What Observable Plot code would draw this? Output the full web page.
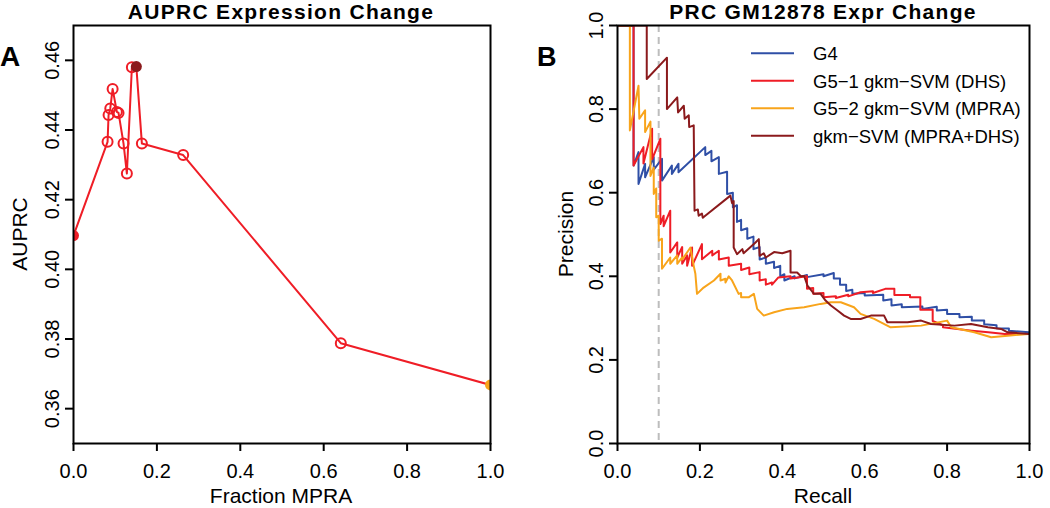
<!DOCTYPE html>
<html>
<head>
<meta charset="utf-8">
<script src="https://cdn.jsdelivr.net/npm/d3@7"></script>
<script src="https://cdn.jsdelivr.net/npm/@observablehq/plot@0.6"></script>
<style>
  html, body { margin: 0; padding: 0; background: #fff; }
  #wrap { position: relative; width: 1050px; height: 508px; overflow: hidden; font-family: "Liberation Sans", Arial, sans-serif; }
  #wrap > .panel { position: absolute; top: 0; }
  #overlay { position: absolute; left: 0; top: 0; pointer-events: none; }
</style>
</head>
<body>
<div id="wrap"></div>
<script>
// ---------- Panel A data ----------
const fractionMPRA = [0, 0.0817, 0.0841, 0.0882, 0.0938, 0.104, 0.108, 0.120, 0.128, 0.140, 0.1507, 0.164, 0.263, 0.641, 1.0];
const auprc       = [0.4097, 0.4366, 0.4443, 0.4462, 0.4518, 0.4452, 0.4449, 0.4361, 0.4275, 0.4580, 0.4582, 0.4361, 0.4328, 0.3788, 0.3668];
const pointModel  = ["G5-1 gkm-SVM (DHS)", "", "", "", "", "", "", "", "", "", "gkm-SVM (MPRA+DHS)", "", "", "", "G5-2 gkm-SVM (MPRA)"];
const xTicksA = [0, 0.2, 0.4, 0.6, 0.8, 1.0];
const yTicksA = [0.36, 0.38, 0.40, 0.42, 0.44, 0.46];

// ---------- Panel B data (precision-recall curves) ----------
const seriesNames = ["G4", "G5-1 gkm-SVM (DHS)", "G5-2 gkm-SVM (MPRA)", "gkm-SVM (MPRA+DHS)"];
const seriesLabels = ["G4", "G5\u22121 gkm\u2212SVM (DHS)", "G5\u22122 gkm\u2212SVM (MPRA)", "gkm\u2212SVM (MPRA+DHS)"];
const seriesColors = ["#2f4fa6", "#ef1d26", "#f8a41b", "#8b1a1c"];

const recallG4 = [0,0.039,0.039,0.051,0.051,0.067,0.067,0.088,0.088,0.108,0.108,0.132,0.132,0.148,0.148,0.213,0.213,0.228,0.228,0.246,0.246,0.266,0.266,0.28,0.28,0.29,0.29,0.30,0.30,0.315,0.315,0.33,0.33,0.345,0.345,0.36,0.36,0.38,0.38,0.395,0.395,0.405,0.405,0.43,0.43,0.46,0.46,0.50,0.50,0.525,0.525,0.54,0.54,0.555,0.555,0.57,0.57,0.60,0.60,0.645,0.645,0.665,0.665,0.69,0.69,0.74,0.74,0.775,0.775,0.80,0.80,0.83,0.83,0.86,0.86,0.89,0.89,0.92,0.92,0.95,0.95,1.0];
const precG4   = [1,1,0.665,0.697,0.621,0.669,0.637,0.685,0.655,0.681,0.629,0.665,0.645,0.669,0.649,0.709,0.69,0.70,0.675,0.685,0.645,0.65,0.597,0.60,0.565,0.57,0.53,0.535,0.51,0.515,0.49,0.495,0.465,0.47,0.44,0.445,0.43,0.435,0.42,0.425,0.40,0.405,0.39,0.40,0.395,0.403,0.398,0.405,0.40,0.408,0.395,0.395,0.38,0.38,0.365,0.368,0.358,0.36,0.354,0.356,0.342,0.345,0.33,0.333,0.326,0.328,0.322,0.327,0.318,0.32,0.31,0.31,0.302,0.303,0.294,0.294,0.285,0.283,0.276,0.275,0.27,0.266];

const recallG51 = [0,0.039,0.039,0.063,0.063,0.084,0.084,0.104,0.104,0.112,0.112,0.128,0.128,0.145,0.145,0.157,0.157,0.169,0.169,0.181,0.181,0.205,0.205,0.23,0.23,0.246,0.246,0.27,0.27,0.30,0.30,0.32,0.32,0.345,0.345,0.36,0.36,0.375,0.375,0.39,0.42,0.42,0.46,0.46,0.475,0.475,0.50,0.50,0.53,0.53,0.56,0.56,0.59,0.62,0.62,0.65,0.672,0.672,0.71,0.71,0.735,0.735,0.765,0.765,0.79,0.79,0.86,0.90,0.94,1.0];
const precG51   = [1,1,0.665,0.709,0.67,0.753,0.68,0.729,0.525,0.545,0.52,0.557,0.457,0.481,0.445,0.47,0.43,0.45,0.425,0.469,0.425,0.477,0.441,0.461,0.45,0.461,0.44,0.445,0.425,0.43,0.415,0.421,0.405,0.41,0.39,0.393,0.38,0.385,0.38,0.397,0.40,0.395,0.40,0.37,0.372,0.358,0.36,0.35,0.352,0.348,0.356,0.352,0.362,0.364,0.36,0.37,0.37,0.355,0.355,0.35,0.35,0.32,0.32,0.293,0.283,0.278,0.27,0.266,0.262,0.262];

const recallG52 = [0,0.030,0.030,0.051,0.053,0.067,0.067,0.08,0.08,0.088,0.088,0.094,0.094,0.1,0.1,0.108,0.108,0.128,0.128,0.145,0.145,0.157,0.157,0.177,0.185,0.189,0.193,0.209,0.234,0.25,0.25,0.262,0.262,0.27,0.278,0.294,0.30,0.30,0.319,0.331,0.339,0.355,0.38,0.412,0.453,0.493,0.518,0.542,0.574,0.59,0.623,0.663,0.737,0.80,0.81,0.866,0.907,0.947,1.0];
const precG52   = [1,1,0.749,0.856,0.777,0.797,0.745,0.77,0.64,0.66,0.597,0.61,0.541,0.545,0.485,0.49,0.418,0.445,0.43,0.45,0.43,0.445,0.44,0.469,0.425,0.406,0.358,0.373,0.39,0.406,0.39,0.394,0.385,0.40,0.39,0.358,0.36,0.35,0.35,0.358,0.322,0.306,0.314,0.322,0.326,0.334,0.338,0.338,0.326,0.31,0.298,0.278,0.282,0.294,0.278,0.266,0.254,0.258,0.262];

const recallGkm = [0,0.071,0.071,0.12,0.12,0.145,0.147,0.161,0.163,0.173,0.174,0.185,0.187,0.195,0.197,0.205,0.207,0.213,0.274,0.278,0.282,0.282,0.29,0.303,0.306,0.335,0.343,0.345,0.355,0.36,0.38,0.40,0.42,0.42,0.436,0.445,0.453,0.461,0.477,0.493,0.505,0.518,0.534,0.55,0.566,0.59,0.615,0.647,0.655,0.704,0.737,0.761,0.818,0.858,0.899,0.931,0.947,1.0];
const precGkm   = [1,1,0.872,0.923,0.80,0.828,0.792,0.808,0.777,0.785,0.757,0.761,0.557,0.56,0.545,0.55,0.54,0.545,0.593,0.575,0.58,0.469,0.453,0.465,0.455,0.481,0.489,0.449,0.455,0.445,0.458,0.455,0.461,0.409,0.409,0.40,0.401,0.378,0.358,0.358,0.342,0.33,0.318,0.306,0.298,0.298,0.306,0.306,0.29,0.29,0.294,0.286,0.282,0.286,0.278,0.274,0.266,0.262];

const recallCutoff = [0.1];
const xTicksB = [0, 0.2, 0.4, 0.6, 0.8, 1.0];
const yTicksB = [0, 0.2, 0.4, 0.6, 0.8, 1.0];

// ---------- build ----------
const FONT = '"Liberation Sans", Arial, Helvetica, sans-serif';
const RED = seriesColors[1];
const modelColor = {};
seriesNames.forEach((n, i) => modelColor[n] = seriesColors[i]);

const dataA = fractionMPRA.map((x, i) => ({x, y: auprc[i], model: pointModel[i]}));

const plotA = Plot.plot({
  width: 520, height: 508,
  marginLeft: 73, marginRight: 30, marginTop: 25, marginBottom: 65,
  x: {domain: [0, 1]},
  y: {domain: [0.35, 0.47]},
  color: {type: "identity"},
  style: {fontFamily: FONT, background: "transparent", color: "#000"},
  marks: [
    Plot.line(dataA, {x: "x", y: "y", stroke: RED, strokeWidth: 2, clip: true}),
    Plot.dot(dataA.filter(d => !d.model), {x: "x", y: "y", r: 5, stroke: RED, strokeWidth: 2, fill: "none", clip: true}),
    Plot.dot(dataA.filter(d => d.model), {x: "x", y: "y", r: 5.5, fill: d => modelColor[d.model], stroke: "none", clip: true}),
    Plot.axisX({ticks: xTicksA, tickFormat: d3.format(".1f"), tickSize: 8, tickPadding: 12, fontSize: 20, strokeWidth: 2, label: null}),
    Plot.axisY({ticks: yTicksA, tickFormat: d3.format(".2f"), tickSize: 8, tickPadding: 7, tickRotate: -90, fontSize: 20, strokeWidth: 2, label: null}),
    Plot.frame({strokeWidth: 2})
  ]
});

const dataB = [];
const recalls = [recallG4, recallG51, recallG52, recallGkm];
const precs = [precG4, precG51, precG52, precGkm];
seriesNames.forEach((name, s) => {
  recalls[s].forEach((r, i) => dataB.push({series: name, recall: r, precision: precs[s][i]}));
});

const plotB = Plot.plot({
  width: 530, height: 508,
  marginLeft: 97, marginRight: 21, marginTop: 25, marginBottom: 65,
  x: {domain: [0, 1]},
  y: {domain: [0, 1]},
  color: {domain: seriesNames, range: seriesColors},
  style: {fontFamily: FONT, background: "transparent", color: "#000"},
  marks: [
    Plot.ruleX(recallCutoff, {stroke: "#bdbdbd", strokeWidth: 2, strokeDasharray: "7,5"}),
    Plot.line(dataB, {x: "recall", y: "precision", z: "series", stroke: "series", strokeWidth: 2, clip: true}),
    Plot.axisX({ticks: xTicksB, tickFormat: d3.format(".1f"), tickSize: 8, tickPadding: 12, fontSize: 20, strokeWidth: 2, label: null}),
    Plot.axisY({ticks: yTicksB, tickFormat: d3.format(".1f"), tickSize: 8, tickPadding: 7, tickRotate: -90, fontSize: 20, strokeWidth: 2, label: null}),
    Plot.frame({strokeWidth: 2})
  ]
});

const wrap = document.getElementById("wrap");
plotA.classList.add("panel"); plotA.style.left = "0px";
plotB.classList.add("panel"); plotB.style.left = "520px";
wrap.appendChild(plotA);
wrap.appendChild(plotB);

// ---------- titles, labels, legend ----------
const ns = "http://www.w3.org/2000/svg";
const ov = document.createElementNS(ns, "svg");
ov.setAttribute("id", "overlay");
ov.setAttribute("width", 1050); ov.setAttribute("height", 508);
ov.setAttribute("font-family", FONT);
wrap.appendChild(ov);
function txt(str, x, y, opts = {}) {
  const t = document.createElementNS(ns, "text");
  t.textContent = str;
  t.setAttribute("x", 0); t.setAttribute("y", 0);
  t.setAttribute("transform", `translate(${x},${y})` + (opts.rotate ? ` rotate(${opts.rotate})` : ""));
  t.setAttribute("font-size", opts.size || 21);
  if (opts.bold) t.setAttribute("font-weight", "bold");
  if (opts.ls) t.setAttribute("letter-spacing", opts.ls);
  t.setAttribute("text-anchor", opts.anchor || "start");
  t.setAttribute("fill", "#000");
  ov.appendChild(t);
}
txt("AUPRC Expression Change", 281, 18.5, {size: 21, bold: true, anchor: "middle", ls: 1.3});
txt("PRC GM12878 Expr Change", 823, 18.5, {size: 21, bold: true, anchor: "middle", ls: 1.3});
txt("A", 0, 66, {size: 28, bold: true});
txt("B", 537, 66, {size: 27, bold: true});
txt("AUPRC", 27, 234, {size: 21, anchor: "middle", rotate: -90});
txt("Precision", 573, 234, {size: 21, anchor: "middle", rotate: -90});
txt("Fraction MPRA", 281, 503, {size: 21, anchor: "middle"});
txt("Recall", 823, 503, {size: 21, anchor: "middle"});

const legendY = [53.3, 80.7, 108.3, 135.7];
seriesLabels.forEach((lab, i) => {
  const l = document.createElementNS(ns, "line");
  l.setAttribute("x1", 751); l.setAttribute("x2", 794);
  l.setAttribute("y1", legendY[i]); l.setAttribute("y2", legendY[i]);
  l.setAttribute("stroke", seriesColors[i]); l.setAttribute("stroke-width", 2);
  ov.appendChild(l);
  txt(lab, 813, legendY[i] + 7, {size: 18.5});
});
</script>
</body>
</html>
